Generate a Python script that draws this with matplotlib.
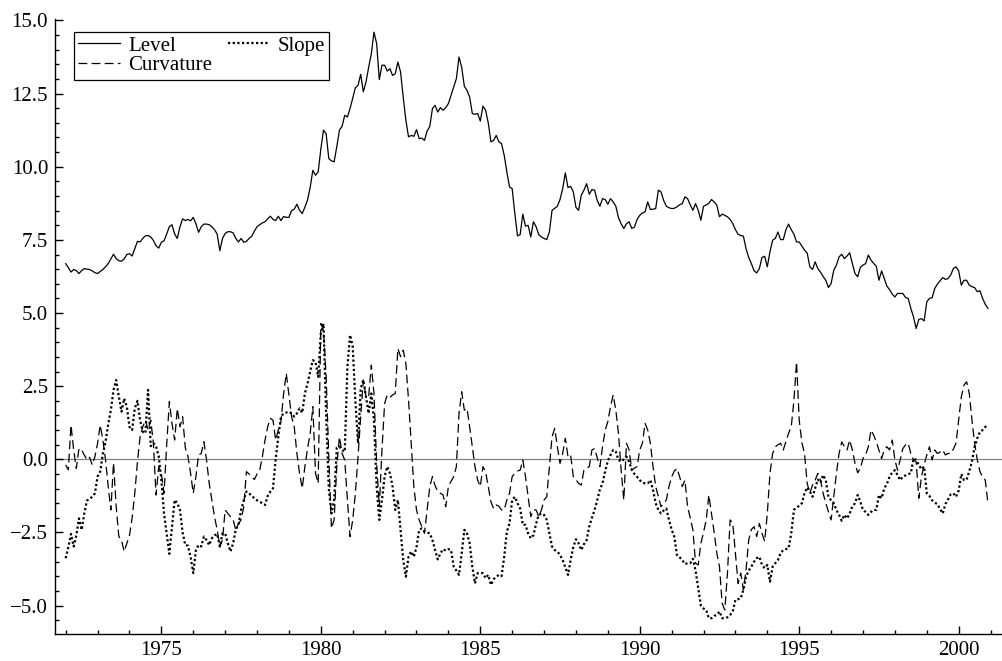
import numpy as np
import matplotlib
matplotlib.use("Agg")
import matplotlib.pyplot as plt
from matplotlib.ticker import MultipleLocator, FuncFormatter

# monthly factors, 1972:01 - 2000:12
start_year = 1972

level = [
    6.69, 6.55, 6.40, 6.49, 6.45, 6.35, 6.45, 6.52, 6.50, 6.49, 6.44, 6.38,
    6.35, 6.42, 6.49, 6.58, 6.69, 6.85, 7.01, 6.86, 6.79, 6.77, 6.85, 7.00,
    7.03, 6.95, 7.20, 7.45, 7.43, 7.55, 7.64, 7.65, 7.60, 7.48, 7.30, 7.22,
    7.42, 7.47, 7.70, 7.95, 8.02, 7.70, 7.55, 7.95, 8.22, 8.16, 8.20, 8.15,
    8.27, 8.05, 7.76, 7.95, 8.04, 8.04, 8.02, 7.95, 7.85, 7.70, 7.13, 7.55,
    7.72, 7.78, 7.78, 7.74, 7.55, 7.43, 7.55, 7.42, 7.45, 7.55, 7.62, 7.80,
    7.95, 8.02, 8.08, 8.12, 8.22, 8.31, 8.20, 8.16, 8.31, 8.16, 8.30, 8.27,
    8.27, 8.50, 8.55, 8.72, 8.51, 8.40, 8.62, 8.86, 9.30, 9.88, 9.71, 9.82,
    10.60, 11.25, 11.13, 10.28, 10.20, 10.17, 10.68, 11.25, 11.38, 11.76, 11.70, 11.99,
    12.35, 12.70, 12.78, 13.16, 12.56, 12.90, 13.40, 13.86, 14.60, 14.21, 12.98, 13.47,
    13.47, 13.27, 13.35, 13.12, 13.18, 13.58, 13.24, 12.38, 11.59, 11.02, 11.07, 11.04,
    11.27, 10.96, 10.98, 10.90, 11.22, 11.38, 11.99, 12.10, 11.87, 12.02, 11.93, 12.02,
    12.16, 12.44, 12.73, 13.01, 13.75, 13.40, 12.75, 12.61, 12.38, 11.82, 11.79, 11.82,
    11.56, 12.07, 11.93, 11.50, 10.85, 10.90, 11.07, 10.85, 10.79, 10.39, 9.82, 9.31,
    9.25, 8.40, 7.64, 7.68, 8.38, 7.97, 8.00, 7.60, 8.12, 7.95, 7.68, 7.60,
    7.55, 7.51, 7.77, 8.51, 8.58, 8.65, 8.88, 9.25, 9.79, 9.29, 9.33, 9.14,
    8.61, 8.51, 9.03, 9.20, 9.42, 9.06, 9.22, 9.20, 8.85, 8.65, 8.91, 8.88,
    8.72, 8.91, 8.80, 8.65, 8.26, 8.05, 7.89, 8.05, 8.12, 7.89, 7.94, 8.20,
    8.34, 8.42, 8.46, 8.80, 8.54, 8.55, 8.57, 9.20, 9.14, 8.85, 8.65, 8.60,
    8.57, 8.58, 8.63, 8.70, 8.74, 8.97, 8.91, 8.70, 8.51, 8.74, 8.51, 8.17,
    8.65, 8.69, 8.75, 8.88, 8.80, 8.69, 8.29, 8.38, 8.34, 8.29, 8.20, 8.06,
    7.85, 7.69, 7.65, 7.63, 7.20, 6.90, 6.69, 6.45, 6.37, 6.52, 6.90, 6.94,
    6.58, 7.10, 7.49, 7.55, 7.77, 7.51, 7.51, 7.85, 8.04, 7.85, 7.70, 7.43,
    7.43, 7.29, 7.15, 7.05, 6.58, 6.49, 6.75, 6.52, 6.40, 6.25, 6.12, 5.87,
    6.01, 6.46, 6.64, 6.92, 7.01, 6.86, 6.95, 7.06, 6.69, 6.35, 6.24, 6.56,
    6.64, 6.69, 6.98, 6.81, 6.70, 6.60, 6.12, 6.44, 6.18, 5.92, 5.80, 5.65,
    5.55, 5.67, 5.67, 5.67, 5.53, 5.50, 5.16, 4.87, 4.47, 4.78, 4.81, 4.73,
    5.38, 5.50, 5.52, 5.84, 5.99, 6.10, 6.21, 6.15, 6.18, 6.30, 6.52, 6.58,
    6.44, 5.95, 6.12, 6.12, 5.95, 5.90, 5.87, 5.73, 5.76, 5.50, 5.30, 5.16,
]

slope = [
    -3.38, -3.00, -2.55, -2.98, -2.60, -2.02, -2.41, -1.85, -1.41, -1.35, -1.28, -1.16,
    -0.59, -0.42, 0.20, 0.60, 1.20, 1.68, 2.37, 2.71, 2.14, 1.63, 2.08, 1.80,
    1.11, 1.00, 1.74, 2.00, 1.34, 0.94, 0.89, 2.37, 0.45, 0.55, 0.45, 0.10,
    -0.71, -1.85, -2.53, -3.23, -2.30, -1.39, -1.50, -1.73, -2.50, -2.93, -2.95, -3.33,
    -3.89, -3.10, -2.93, -2.98, -2.64, -2.76, -2.93, -2.70, -2.60, -2.55, -2.98, -2.53,
    -2.53, -2.87, -3.15, -2.87, -2.40, -2.24, -1.73, -1.40, -1.10, -1.16, -1.25, -1.33,
    -1.40, -1.45, -1.50, -1.56, -1.25, -1.10, -0.99, 0.00, 0.77, 1.46, 1.57, 1.60,
    1.63, 1.57, 1.46, 1.57, 1.74, 1.59, 2.25, 2.59, 3.00, 3.39, 3.33, 2.82,
    4.30, 4.64, 1.50, -1.00, -1.85, -1.40, 0.40, 0.43, 0.32, 0.26, 3.16, 4.25,
    3.85, 2.00, 0.55, 2.42, 2.71, 2.14, 1.57, 2.25, 1.34, -0.93, -2.07, -1.39,
    -0.59, -0.25, -0.48, -0.93, -1.73, -1.39, -2.41, -3.44, -4.01, -3.33, -3.15, -3.33,
    -3.00, -2.41, -2.36, -2.47, -2.50, -2.53, -2.76, -3.10, -3.42, -3.21, -3.07, -3.12,
    -3.07, -3.10, -3.67, -3.80, -3.95, -3.21, -2.41, -2.53, -2.87, -3.67, -4.24, -3.89,
    -3.89, -3.89, -4.06, -3.95, -4.29, -4.10, -4.01, -3.95, -3.99, -3.33, -2.47, -2.19,
    -1.39, -1.28, -1.50, -1.68, -2.24, -2.24, -2.53, -2.70, -2.59, -2.20, -1.90, -1.85,
    -1.90, -2.07, -2.53, -2.98, -3.10, -3.15, -3.27, -3.44, -3.70, -3.95, -3.44, -3.00,
    -2.73, -2.87, -3.10, -2.90, -2.76, -2.30, -2.00, -1.73, -1.40, -1.03, -0.82, -0.40,
    -0.05, 0.15, 0.32, 0.26, -0.02, -0.08, 0.00, 0.09, -0.08, -0.36, -0.50, -0.60,
    -0.71, -0.80, -0.82, -0.82, -0.71, -1.05, -1.50, -1.73, -1.85, -1.75, -1.68, -2.07,
    -2.40, -2.64, -3.27, -3.35, -3.44, -3.58, -3.55, -3.55, -3.40, -3.80, -4.40, -5.00,
    -5.10, -5.15, -5.43, -5.43, -5.35, -5.32, -5.20, -5.43, -5.43, -5.40, -5.32, -5.20,
    -4.80, -4.78, -4.75, -4.46, -4.01, -3.80, -3.67, -3.50, -3.38, -3.33, -3.61, -3.72,
    -3.61, -4.18, -3.67, -3.55, -3.44, -3.20, -3.10, -3.07, -3.04, -2.53, -1.73, -1.65,
    -1.59, -1.50, -1.16, -0.96, -1.10, -1.28, -0.99, -0.69, -0.80, -0.54, -0.71, -1.28,
    -1.40, -1.50, -1.73, -1.90, -2.10, -1.90, -2.02, -1.85, -1.60, -1.50, -1.22, -1.45,
    -1.73, -1.80, -1.90, -1.80, -1.73, -1.73, -1.22, -1.33, -0.99, -0.84, -0.59, -0.45,
    -0.37, -0.54, -0.71, -0.59, -0.55, -0.50, -0.48, 0.03, -0.02, -0.19, -0.34, -0.25,
    -1.16, -1.25, -1.40, -1.48, -1.53, -1.70, -1.85, -1.53, -1.37, -1.20, -1.16, -1.28,
    -1.07, -0.50, -0.71, -0.69, -0.40, -0.08, 0.43, 0.72, 0.94, 1.00, 1.11, 1.15,
]

curvature = [
    -0.19, -0.36, 1.17, 0.32, -0.31, 0.37, 0.32, 0.15, -0.02, 0.07, -0.19, 0.09,
    0.55, 1.17, 0.66, -0.02, -0.93, -1.73, -0.12, -1.62, -2.64, -2.76, -3.15, -2.87,
    -2.60, -2.00, -1.16, -0.08, 0.77, 1.11, 1.34, 1.00, 1.34, 0.55, -1.22, -0.25,
    -0.48, -1.16, 0.49, 1.97, 1.23, 0.66, 1.74, 1.11, 1.46, 0.40, 0.10, -0.48,
    -1.16, -0.59, 0.15, 0.20, 0.60, -0.02, -0.82, -1.39, -1.96, -2.41, -2.98, -2.76,
    -1.73, -1.85, -1.96, -2.07, -2.41, -2.20, -2.07, -1.62, -0.42, -0.50, -0.59, -0.69,
    -0.50, -0.37, 0.09, 0.66, 1.11, 1.40, 1.34, 0.66, 1.00, 1.29, 2.25, 2.94,
    2.20, 1.46, 1.11, 0.20, -0.48, -0.99, -0.25, 0.37, 0.89, 1.80, -0.48, -0.82,
    4.64, 4.42, 2.82, 0.09, -2.36, -2.07, -0.25, 0.77, 0.20, -0.02, -1.39, -2.64,
    -2.07, -1.16, 0.09, 1.46, 2.71, 2.14, 2.14, 3.22, 2.25, -0.14, -1.62, 0.32,
    1.91, 2.20, 2.12, 2.20, 2.25, 3.79, 3.51, 3.73, 3.28, 2.03, 0.55, -0.93,
    -1.73, -2.07, -2.30, -2.53, -1.73, -0.93, -0.59, -0.90, -1.10, -1.16, -1.22, -1.62,
    -0.93, -0.75, -0.59, -0.25, 1.57, 2.31, 1.68, 1.74, 1.11, 0.43, -0.25, -0.71,
    -0.93, -0.25, -0.42, -0.93, -1.45, -1.68, -1.56, -1.60, -1.73, -1.73, -1.39, -1.16,
    -0.59, -0.48, -0.40, -0.37, -0.02, -0.59, -1.28, -1.96, -1.73, -1.73, -1.96, -1.73,
    -1.39, -1.28, -0.25, 0.77, 1.06, 0.43, -0.14, 0.20, 0.72, 0.09, 0.15, -0.59,
    -0.70, -0.82, -0.88, -0.37, -0.30, -0.25, 0.32, 0.37, 0.05, -0.25, 0.43, 1.00,
    1.29, 1.80, 2.20, 1.68, 0.89, -0.37, -1.39, 0.55, 0.32, -0.37, -0.30, -0.25,
    0.32, 0.55, 1.23, 1.00, 0.55, -0.25, -0.93, -1.28, -1.62, -1.50, -1.39, -0.93,
    -0.60, -0.40, -0.31, -0.59, -0.93, -0.71, -1.62, -2.00, -2.41, -3.55, -3.61, -2.87,
    -2.50, -2.07, -1.22, -1.85, -2.50, -3.21, -3.67, -4.92, -5.15, -3.89, -2.07, -2.19,
    -3.21, -4.24, -3.89, -4.46, -3.78, -2.76, -2.40, -2.30, -2.64, -2.19, -2.53, -2.81,
    -1.85, -0.48, 0.20, 0.43, 0.50, 0.55, 0.32, 0.60, 0.89, 1.11, 2.00, 3.33,
    1.34, 0.57, 0.20, -0.82, -1.16, -0.88, -0.71, -0.48, -0.71, -1.16, -1.50, -1.79,
    -2.07, -1.28, -0.48, 0.20, 0.60, 0.43, 0.32, 0.66, 0.32, -0.14, -0.46, -0.31,
    0.03, 0.15, 0.43, 1.00, 0.83, 0.60, 0.32, 0.03, 0.32, 0.43, 0.32, 0.66,
    -0.02, -0.37, -0.02, 0.37, 0.49, 0.55, 0.20, -0.02, -0.08, -1.33, -0.59, -0.19,
    0.15, 0.43, -0.02, 0.32, 0.20, 0.25, 0.32, 0.15, 0.20, 0.20, 0.35, 0.55,
    1.34, 2.14, 2.54, 2.65, 2.25, 1.34, 0.55, -0.02, -0.42, -0.60, -0.71, -1.50,
]

t = start_year + np.arange(len(level)) / 12.0

plt.rcParams['font.family'] = ['Liberation Serif', 'DejaVu Serif']
plt.rcParams['font.size'] = 15

fig = plt.figure(figsize=(10.03, 6.61), dpi=100)
ax = fig.add_axes([55 / 1003, 26.7 / 661, 948 / 1003, 615.3 / 661])

ax.axhline(0, color='#808080', lw=0.9, zorder=1)
ax.plot(t, level, color='black', lw=0.9, label='Level')
ax.plot(t, curvature, color='black', lw=0.9, ls=(0, (7, 3.5)), label='Curvature')
ax.plot(t, slope, color='black', lw=1.6, ls=(0, (1, 1.1)), label='Slope')

ax.set_xlim(1971.665, 2001.39)
ax.set_ylim(-5.98, 15.05)

ax.xaxis.set_major_locator(MultipleLocator(5))
ax.xaxis.set_minor_locator(MultipleLocator(1))
ax.yaxis.set_major_locator(MultipleLocator(2.5))
ax.yaxis.set_minor_locator(MultipleLocator(0.5))
ax.yaxis.set_major_formatter(FuncFormatter(lambda v, p: ('%.1f' % v).replace('-', '\u2212')))

for s in ('top', 'right'):
    ax.spines[s].set_visible(False)
for s in ('left', 'bottom'):
    ax.spines[s].set_linewidth(1.0)

ax.tick_params(which='both', direction='in', top=False, right=False, width=1.0)
ax.tick_params(which='major', length=5.8, labelsize=15, pad=5)
ax.tick_params(which='minor', length=2.6)

leg = ax.legend(loc='upper left', bbox_to_anchor=(74 / 1003, 1 - 32 / 661),
                bbox_transform=fig.transFigure, borderaxespad=0, ncol=2,
                fancybox=False, edgecolor='black', framealpha=1,
                handlelength=2.0, handletextpad=0.4, columnspacing=0.75,
                labelspacing=0.0, borderpad=0.2, fontsize=15)
leg.get_frame().set_linewidth(0.9)

fig.savefig('out.png', dpi=100)
